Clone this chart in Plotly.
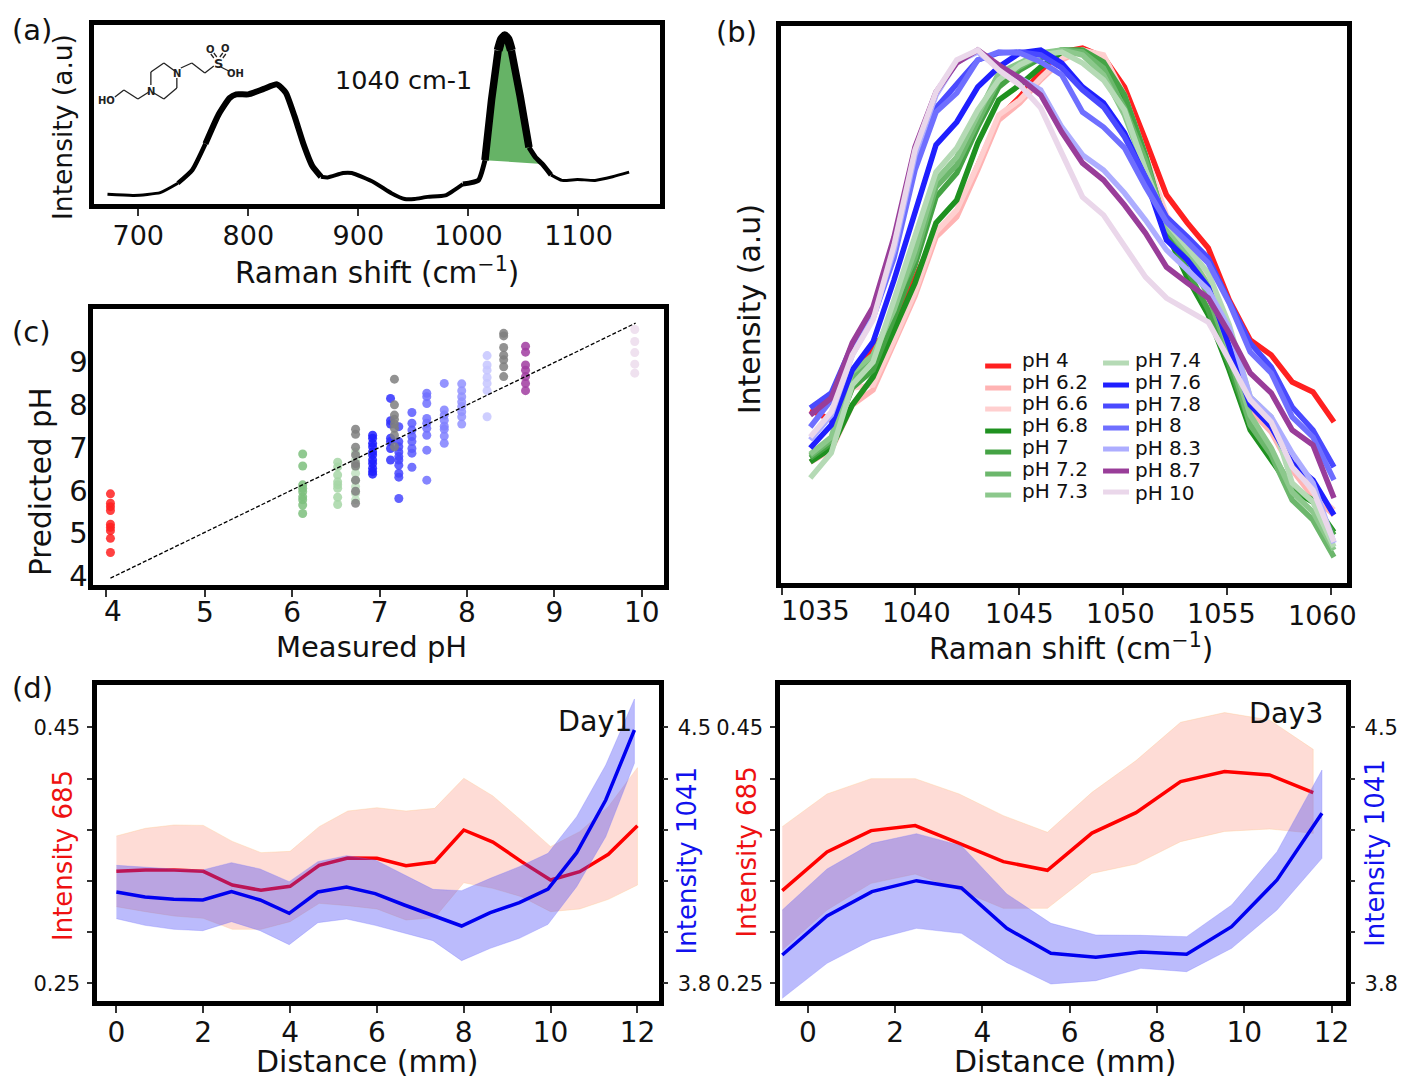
import plotly.graph_objects as go

W, H = 1401, 1080
FONT = "DejaVu Sans"
KX, KY = 1.002, 1.0075   # the photographed page comes out very slightly squeezed

# ---------- panel (a) ----------
a_shift = [672, 696, 720, 736, 749, 761, 773, 783, 789, 800, 814, 826, 834, 842, 850, 858, 866, 872, 886, 894,
           914, 930, 942, 951, 963, 979, 995, 1009, 1015, 1021, 1027, 1030, 1033, 1036, 1039, 1047, 1055, 1061, 1067, 1075,
           1085, 1099, 1115, 1131, 1146]
a_int = [6.4, 5.8, 7.3, 12.4, 19.6, 34, 50, 59, 61, 61, 64, 66.5, 62, 49, 34, 22, 16, 15.6, 18, 18,
         13, 7, 3.8, 3.8, 5, 5.8, 12, 14, 25, 58, 85, 91, 93, 91, 85, 60, 32, 26.5, 23, 17,
         14, 14.5, 14, 16, 18.5]

# ---------- panel (b) ----------
b_shift = [1034.95, 1035.96, 1036.97, 1037.97, 1038.98, 1039.99, 1041.0, 1042.0, 1043.01, 1044.02, 1045.03, 1046.04,
           1047.05, 1048.05, 1049.06, 1050.07, 1051.08, 1052.09, 1053.1, 1054.1, 1055.11, 1056.12, 1057.13, 1058.14,
           1059.14, 1060.15]
ph_4 = [190, 180, 228, 253, 275, 320, 368, 387, 435, 482, 503, 528, 548, 552, 543, 513, 460, 405, 377, 352, 300, 260, 245, 218, 208, 178]
ph_62 = [138, 150, 195, 210, 257, 304, 363, 383, 430, 480, 497, 520, 540, 550, 543, 500, 442, 378, 350, 315, 255, 190, 168, 130, 103, 85]
ph_66 = [145, 162, 212, 215, 260, 308, 368, 390, 435, 485, 500, 522, 542, 550, 545, 505, 445, 385, 355, 320, 260, 200, 175, 138, 108, 90]
ph_68 = [138, 152, 195, 223, 270, 317, 377, 400, 457, 500, 515, 533, 548, 548, 535, 500, 437, 368, 322, 285, 230, 170, 140, 110, 98, 68]
ph_70 = [142, 157, 212, 230, 282, 335, 403, 427, 473, 513, 530, 542, 550, 550, 538, 505, 445, 370, 330, 290, 235, 175, 148, 112, 100, 65]
ph_72 = [144, 160, 222, 240, 295, 342, 413, 435, 478, 520, 533, 545, 550, 548, 532, 492, 440, 375, 342, 305, 245, 175, 145, 100, 80, 43]
ph_73 = [146, 163, 228, 245, 290, 350, 420, 443, 485, 527, 537, 547, 550, 545, 525, 485, 430, 372, 348, 315, 250, 185, 152, 108, 88, 50]
ph_74 = [122, 147, 215, 238, 300, 362, 428, 452, 490, 520, 535, 545, 548, 537, 520, 490, 430, 378, 353, 327, 275, 203, 183, 117, 98, 53]
ph_76 = [152, 175, 230, 258, 320, 387, 455, 478, 513, 533, 547, 550, 537, 513, 497, 467, 422, 360, 340, 313, 255, 195, 173, 137, 120, 85]
ph_78 = [192, 207, 255, 288, 350, 435, 492, 515, 540, 547, 548, 545, 532, 510, 493, 463, 422, 383, 363, 342, 298, 257, 233, 193, 170, 133]
ph_80 = [173, 200, 248, 282, 342, 430, 488, 507, 540, 548, 547, 538, 525, 488, 473, 452, 413, 378, 358, 337, 297, 248, 227, 183, 163, 120]
ph_83 = [160, 185, 245, 282, 350, 445, 505, 538, 548, 532, 522, 510, 473, 445, 430, 407, 380, 350, 330, 310, 272, 203, 183, 147, 117, 57]
ph_87 = [185, 202, 257, 293, 363, 453, 508, 537, 550, 535, 522, 505, 468, 437, 420, 395, 367, 333, 317, 302, 267, 227, 207, 170, 155, 102]
ph_100 = [163, 188, 245, 280, 355, 450, 508, 540, 550, 530, 515, 492, 447, 403, 385, 353, 323, 302, 290, 278, 240, 200, 178, 133, 110, 58]
b_names = ["pH 4", "pH 6.2", "pH 6.6", "pH 6.8", "pH 7", "pH 7.2", "pH 7.3",
           "pH 7.4", "pH 7.6", "pH 7.8", "pH 8", "pH 8.3", "pH 8.7", "pH 10"]
b_series = [ph_4, ph_62, ph_66, ph_68, ph_70, ph_72, ph_73, ph_74, ph_76, ph_78, ph_80, ph_83, ph_87, ph_100]
b_colors = ["#ff2020", "#ffb3b3", "#ffcfcf", "#1f9120", "#45a345", "#6cb76c", "#8cc88c",
            "#b5dab5", "#1f1fff", "#4a4aff", "#6f6fff", "#adadff", "#993d99", "#ead7ea"]

# ---------- panel (c) ----------
c_groups = [
    ("#ff2020", 3.92, [5.92, 5.70, 5.62, 5.53, 5.21, 5.14, 5.06, 4.88, 4.55]),
    ("#7cc07c", 6.12, [6.85, 6.57, 6.13, 6.05, 5.97, 5.85, 5.78, 5.66, 5.46]),
    ("#a6d6a6", 6.52, [6.66, 6.55, 6.36, 6.20, 6.13, 6.05, 5.84, 5.67]),
    ("#bfe0bf", 6.725, [6.9, 6.71, 6.55, 6.40, 6.24, 6.09, 5.93, 5.78]),
    ("#7f7f7f", 6.725, [7.43, 7.31, 7.01, 6.83, 6.63, 6.57, 6.24, 5.98, 5.70]),
    ("#1f1fff", 6.92, [7.29, 7.22, 7.10, 7.02, 6.90, 6.83, 6.71, 6.63, 6.52, 6.44, 6.38]),
    ("#3030ff", 7.125, [8.15, 7.63, 7.55, 7.22, 7.14, 6.98, 6.71]),
    ("#4646ff", 7.22, [7.49, 7.14, 7.02, 6.90, 6.79, 6.71, 6.59, 6.40, 6.31, 5.81]),
    ("#7f7f7f", 7.17, [8.6, 8.0, 7.76, 7.66, 7.55, 7.45, 7.29, 7.02]),
    ("#5a5aff", 7.37, [7.82, 7.57, 7.41, 7.26, 7.14, 6.98, 6.87, 6.54]),
    ("#7070ff", 7.54, [8.27, 8.19, 8.03, 7.68, 7.57, 7.45, 7.29, 6.94, 6.24]),
    ("#8080ff", 7.74, [8.5, 7.88, 7.76, 7.64, 7.50, 7.43, 7.27, 7.10]),
    ("#9292ff", 7.94, [8.49, 8.33, 8.19, 8.07, 7.96, 7.84, 7.72, 7.55]),
    ("#c5c5ff", 8.23, [9.15, 8.93, 8.81, 8.64, 8.50, 8.33, 7.72]),
    ("#7f7f7f", 8.42, [9.67, 9.61, 9.34, 9.16, 9.05, 8.89, 8.66]),
    ("#a03ca0", 8.67, [9.37, 9.23, 8.93, 8.81, 8.66, 8.5, 8.33]),
    ("#ecdcec", 9.92, [9.76, 9.48, 9.22, 8.95, 8.74]),
]
c_fit_x = [3.92, 9.93]
c_fit_y = [3.95, 9.91]

# ---------- panel (d) Day1 ----------
d1_x = [0, 0.67, 1.33, 2, 2.67, 3.33, 4, 4.67, 5.33, 6, 6.67, 7.33, 8, 8.67, 9.33, 10, 10.67, 11.33, 12]
d1_r = [.3375, .3385, .3385, .3375, .3268, .3227, .3258, .3422, .3479, .3477, .3419, .3448, .3698, .3604, .3451, .3307, .3372, .3508, .3732]
d1_r_hi = [.3651, .3711, .3737, .3734, .3609, .3521, .3531, .3724, .3846, .3872, .3846, .3867, .4102, .3964, .3771, .3568, .3685, .3880, .4185]
d1_r_lo = [.3099, .3060, .3026, .3008, .2922, .2922, .2982, .3125, .3107, .3081, .2995, .3013, .3286, .3242, .3177, .3060, .3081, .3156, .3268]
d1_bx = [0, 0.66, 1.32, 1.99, 2.65, 3.31, 3.98, 4.64, 5.3, 5.96, 6.63, 7.29, 7.95, 8.61, 9.28, 9.94, 10.6, 11.27, 11.93]
d1_b = [4.0497, 4.0361, 4.0297, 4.0279, 4.0507, 4.0279, 3.9914, 4.0497, 4.0634, 4.0452, 4.0142, 3.9850, 3.9568, 3.9932, 4.0206, 4.0579, 4.1573, 4.3013, 4.4927]
d1_b_hi = [4.1227, 4.1172, 4.1126, 4.1099, 4.1300, 4.1126, 4.0780, 4.1327, 4.1491, 4.1372, 4.0962, 4.0570, 4.0534, 4.0871, 4.1190, 4.1555, 4.2557, 4.3970, 4.5775]
d1_b_lo = [3.9768, 3.9586, 3.9477, 3.9440, 3.9686, 3.9440, 3.9057, 3.9659, 3.9759, 3.9586, 3.9367, 3.9167, 3.8620, 3.8957, 3.9231, 3.9613, 4.0643, 4.2010, 4.4016]

# ---------- panel (d) Day3 ----------
d3_x = [-.585, .44, 1.45, 2.46, 3.47, 4.48, 5.49, 6.51, 7.52, 8.54, 9.55, 10.58, 11.58]
d3_r = [.3224, .3526, .3693, .3732, .3594, .3451, .3383, .3674, .3833, .4076, .4154, .4128, .3990]
d3_r_hi = [.3724, .3979, .4099, .4099, .3979, .3810, .3680, .3992, .4240, .4539, .4615, .4557, .4328]
d3_r_lo = [.2760, .3073, .3281, .3354, .3229, .3086, .3086, .3359, .3432, .3607, .3687, .3706, .3672]
d3_bx = [-.585, .44, 1.47, 2.49, 3.52, 4.56, 5.57, 6.6, 7.63, 8.68, 9.71, 10.75, 11.78]
d3_b = [3.8775, 3.9841, 4.0507, 4.0807, 4.0607, 3.9504, 3.8820, 3.8711, 3.8857, 3.8793, 3.9549, 4.0826, 4.2648]
d3_b_hi = [4.0005, 4.1126, 4.1828, 4.2092, 4.1764, 4.0443, 3.9641, 3.9322, 3.9313, 3.9276, 4.0142, 4.1600, 4.3833]
d3_b_lo = [3.7590, 3.8547, 3.9185, 3.9504, 3.9367, 3.8565, 3.7982, 3.8073, 3.8410, 3.8319, 3.8957, 4.0005, 4.1418]

# ---------- helpers ----------
LW = 4.5


def fx(p):
    return p * KX / W


def fy(p):
    return 1 - p * KY / H


def ax_range(lo, hi, p1, v1, p2, v2):
    """Axis range for an axis spanning pixels lo..hi, calibrated by two pixel/value pairs."""
    s = (v2 - v1) / (p2 - p1)
    return [v1 + (lo - p1) * s, v1 + (hi - p1) * s]


annotations, shapes = [], []


def note(text, x, y, size=26, color="#111", rot=0, anchor="center"):
    annotations.append(dict(text=text, x=fx(x), y=fy(y), xref="paper", yref="paper", showarrow=False,
                            xanchor=anchor, yanchor="middle", textangle=rot,
                            font=dict(family=FONT, size=size, color=color)))


layout = dict(width=W, height=H, margin=dict(l=0, r=0, t=0, b=0), paper_bgcolor="white", plot_bgcolor="white",
              showlegend=False, font=dict(family=FONT, color="#111"))
fig = go.Figure()


def make_axes(n, left, right, top, bottom, xcal, ycal, xticks, xtext, ysize=25, xsize=27, yticks=None, ytext=None,
              ylen=0, yminor=None, ystand=0, xstand=0):
    l, r, t, b = left + LW / 2, right - LW / 2, top + LW / 2, bottom - LW / 2
    suffix = "" if n == 1 else str(n)
    layout["xaxis" + suffix] = dict(domain=[fx(l), fx(r)], range=ax_range(l, r, *xcal), anchor="y" + suffix,
                                    showgrid=False, zeroline=False, showline=True, linewidth=LW, linecolor="black",
                                    mirror=True, ticks="outside", ticklen=7, tickwidth=2, tickcolor="#333",
                                    tickvals=xticks, ticktext=xtext, showticklabels=xtext is not None,
                                    ticklabelstandoff=xstand,
                                    tickfont=dict(family=FONT, size=xsize, color="#111"))
    ya_ = dict(domain=[fy(b), fy(t)], range=ax_range(b, t, *ycal), anchor="x" + suffix,
               showgrid=False, zeroline=False, showline=True, linewidth=LW, linecolor="black",
               mirror=True, ticks="outside" if ylen else "", ticklen=ylen, tickwidth=2,
               tickcolor="#333", tickvals=yticks, ticktext=ytext,
               showticklabels=ytext is not None, ticklabelstandoff=ystand,
               tickfont=dict(family=FONT, size=ysize, color="#111"))
    if yminor:
        ya_["minor"] = dict(tickvals=yminor, ticks="outside", ticklen=ylen, tickwidth=2, tickcolor="#333", showgrid=False)
    layout["yaxis" + suffix] = ya_
    return ("x" + suffix, "y" + suffix)


# ---- (a)
xa, ya = make_axes(1, 91.5, 663, 23, 206, (138.4, 700, 579, 1100), (206, 0, 23, 100),
                   [700, 800, 900, 1000, 1100], ["700", "800", "900", "1000", "1100"], xstand=-3)
peak_i = [i for i, v in enumerate(a_shift) if 1012 <= v <= 1068]
fig.add_trace(go.Scatter(x=[a_shift[i] for i in peak_i], y=[a_int[i] for i in peak_i], fill="toself", mode="none",
                         fillcolor="#66b366", xaxis=xa, yaxis=ya))
for lo, hi, w in [(672, 736, 3), (736, 761, 4.5), (761, 866, 6), (866, 995, 4), (995, 1015, 5), (1015, 1027, 7.5),
                  (1027, 1039, 9), (1039, 1055, 7.5), (1055, 1075, 5), (1075, 1146, 3)]:
    idx = [i for i, v in enumerate(a_shift) if lo <= v <= hi]
    fig.add_trace(go.Scatter(x=[a_shift[i] for i in idx], y=[a_int[i] for i in idx], mode="lines",
                             line=dict(color="black", width=w, shape="spline", smoothing=0.5),
                             xaxis=xa, yaxis=ya))
note("1040 cm-1", 404, 80, 25.5)
note("Intensity (a.u)", 62, 127, 26.5, rot=-90)
note("Raman shift (cm<sup>−1</sup>)", 377, 271, 29.5)
note("(a)", 32, 30, 29)

# molecule sketch (illustration, not data)
mol_paths = [
    [(115, 97), (124, 90), (138, 99), (149, 92)],
    [(151, 85), (151, 72), (164, 63), (175, 71)],
    [(177, 78), (177, 88), (164, 99), (154, 93)],
    [(181, 68), (192, 63), (205, 73), (214, 66)],
    [(221, 67), (229, 71)],
    [(217, 57), (214, 53)], [(214, 58), (211, 54)],
    [(220, 57), (223, 53)], [(223, 58), (226, 54)],
]
for path in mol_paths:
    for (x0, y0), (x1, y1) in zip(path[:-1], path[1:]):
        shapes.append(dict(type="line", xref="paper", yref="paper", x0=fx(x0), y0=fy(y0), x1=fx(x1), y1=fy(y1),
                           line=dict(color="#222", width=1.3)))
for t, x, y, s in [("HO", 107, 100, 10), ("N", 151, 91, 10), ("N", 177, 73, 10), ("S", 219, 63, 13),
                   ("O", 211, 49, 10), ("O", 226, 48, 10), ("OH", 236, 73, 10)]:
    note("<b>%s</b>" % t, x, y, s, color="#222")

# ---- (b)
xb, yb = make_axes(2, 779.5, 1350, 24, 585, (916, 1040, 1332, 1060), (585, 15, 24, 576),
                   [1033.6, 1040, 1045, 1050, 1055, 1060], None)
for name, vals, col in zip(b_names, b_series, b_colors):
    fig.add_trace(go.Scatter(x=b_shift, y=vals, mode="lines", name=name, line=dict(color=col, width=5.5),
                             xaxis=xb, yaxis=yb))
for t, x, y in [("1035", 816, 610), ("1040", 917, 612), ("1045", 1020, 613), ("1050", 1121, 613),
                ("1055", 1223, 613), ("1060", 1324, 615)]:
    note(t, x, y, 27)
note("Intensity (a.u)", 750, 309, 30, rot=-90)
note("Raman shift (cm<sup>−1</sup>)", 1072, 647, 29.5)
note("(b)", 737, 32, 29)
leg_rows_1 = [(366, 360), (388, 382), (409, 403), (431, 425), (452, 447), (474, 469), (495, 491)]
leg_rows_2 = [(363, 360), (385, 382), (406, 404), (428, 425), (449, 448), (471, 470), (492, 493)]
for i, (name, col) in enumerate(zip(b_names, b_colors)):
    if i < 7:
        (sy, ty), x0, x1, tx = leg_rows_1[i], 986, 1012, 1021
    else:
        (sy, ty), x0, x1, tx = leg_rows_2[i - 7], 1104, 1130, 1134
    shapes.append(dict(type="line", xref="paper", yref="paper", x0=fx(x0), x1=fx(x1), y0=fy(sy), y1=fy(sy),
                       line=dict(color=col, width=5)))
    note(name, tx, ty, 20, anchor="left")

# ---- (c)
xc, yc = make_axes(3, 91, 667, 307, 587, (205, 5, 642.3, 10), (576, 4, 362, 9),
                   [5, 6, 7, 8, 9, 10], ["5", "6", "7", "8", "9", "10"], ysize=29, xsize=28,
                   yticks=[4, 5, 6, 7, 8, 9], ytext=["4", "5", "6", "7", "8", "9"], ystand=-5, xstand=-8)
layout["xaxis3"]["minor"] = dict(tickvals=[3.865], ticks="outside", ticklen=7, tickwidth=2, tickcolor="#333", showgrid=False)
note("4", 113, 611, 28)
for col, xv, yv in c_groups:
    fig.add_trace(go.Scatter(x=[xv] * len(yv), y=yv, mode="markers",
                             marker=dict(color=col, size=9, opacity=0.85, line=dict(width=0)),
                             xaxis=xc, yaxis=yc))
fig.add_trace(go.Scatter(x=c_fit_x, y=c_fit_y, mode="lines", line=dict(color="black", width=1.3, dash="4px,2px"),
                         xaxis=xc, yaxis=yc))
note("Predicted pH", 41, 481, 29.5, rot=-90)
note("Measured pH", 372, 647, 29)
note("(c)", 32, 332, 29)


# ---- (d)
def day_panel(n, left, right, x1, x2, xr, r, r_hi, r_lo, xb_, b, b_hi, b_lo):
    xn, yn = make_axes(n, left, right, 683, 1003, (x1, 0, x2, 12), (727.3, .45, 983.3, .25),
                       [0, 2, 4, 6, 8, 10, 12], ["0", "2", "4", "6", "8", "10", "12"], ysize=21, xsize=28,
                       yticks=[.25, .45], ytext=["0.25", "0.45"], ylen=5, yminor=[.29, .33, .37, .41], ystand=3,
                       xstand=-4)
    y2 = "yaxis" + str(n + 1)
    t, bt = 683 + LW / 2, 1003 - LW / 2
    layout[y2] = dict(domain=layout["yaxis" + str(n)]["domain"], range=ax_range(bt, t, 727.3, 4.5, 983.3, 3.8),
                      overlaying="y" + str(n), anchor="x" + str(n), side="right", showgrid=False, zeroline=False,
                      showline=True, linewidth=LW, linecolor="black", ticks="outside", ticklen=5, tickwidth=2,
                      tickcolor="#333", tickvals=[3.8, 4.5], ticktext=["3.8", "4.5"], ticklabelstandoff=5,
                      minor=dict(tickvals=[3.94, 4.08, 4.22, 4.36], ticks="outside", ticklen=5, tickwidth=2,
                                 tickcolor="#333", showgrid=False),
                      tickfont=dict(family=FONT, size=21, color="#111"))
    yr = "y" + str(n + 1)
    fig.add_trace(go.Scatter(x=xr + xr[::-1], y=r_hi + r_lo[::-1], fill="toself", mode="lines",
                             line=dict(color="rgba(255,200,140,0.35)", width=1), fillcolor="rgba(250,125,105,0.27)",
                             xaxis=xn, yaxis=yn))
    fig.add_trace(go.Scatter(x=xr, y=r, mode="lines", line=dict(color="#ff0000", width=3.5), xaxis=xn, yaxis=yn))
    fig.add_trace(go.Scatter(x=xb_ + xb_[::-1], y=b_hi + b_lo[::-1], fill="toself", mode="lines",
                             line=dict(color="rgba(120,120,255,0.3)", width=1), fillcolor="rgba(60,60,245,0.35)",
                             xaxis=xn, yaxis=yr))
    fig.add_trace(go.Scatter(x=xb_, y=b, mode="lines", line=dict(color="#0000f0", width=3.5), xaxis=xn, yaxis=yr))


day_panel(4, 95, 661.5, 116.5, 638, d1_x, d1_r, d1_r_hi, d1_r_lo, d1_bx, d1_b, d1_b_hi, d1_b_lo)
day_panel(6, 778.5, 1349, 808.5, 1332.7, d3_x, d3_r, d3_r_hi, d3_r_lo, d3_bx, d3_b, d3_b_hi, d3_b_lo)
note("Intensity 685", 63, 855, 26, color="#ee1111", rot=-90)
note("Intensity 1041", 688, 860, 26, color="#1111ee", rot=-90)
note("Intensity 685", 748, 852, 26, color="#ee1111", rot=-90)
note("Intensity 1041", 1376, 853, 26, color="#1111ee", rot=-90)
note("Day1", 596, 721, 28.5)
note("Day3", 1287, 713, 28.5)
note("Distance (mm)", 368, 1061, 30)
note("Distance (mm)", 1066, 1061, 30)
note("(d)", 33, 688, 29)

layout["annotations"] = annotations
layout["shapes"] = shapes
fig.update_layout(**layout)
fig.write_html("out.html", config={"displayModeBar": False},
               post_script="document.body.style.margin='0';document.documentElement.style.overflow='hidden';")
